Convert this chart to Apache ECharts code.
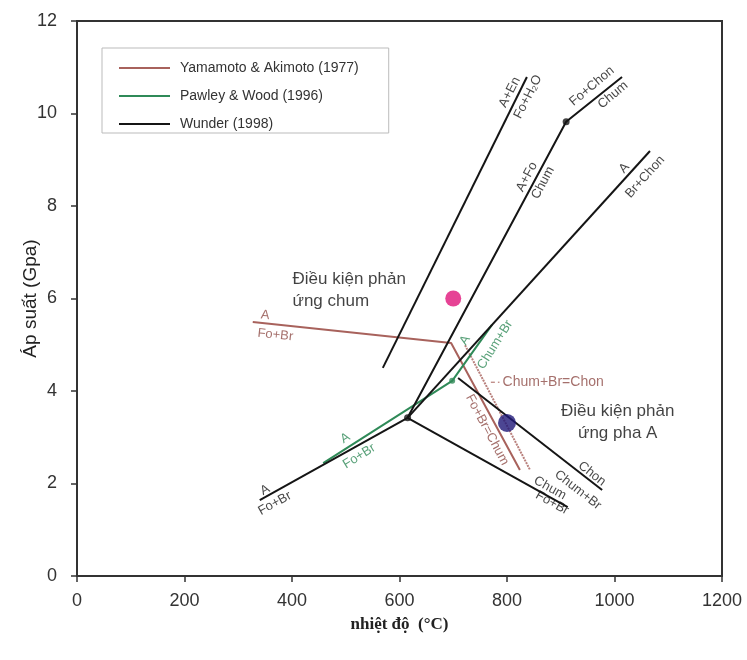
<!DOCTYPE html>
<html><head><meta charset="utf-8">
<script src="https://cdn.jsdelivr.net/npm/echarts@6/dist/echarts.min.js"></script>
<style>html,body{margin:0;padding:0;background:#fff}#c{width:747px;height:660px}</style>
</head><body><div id="c"></div>
<script>
// axes
const xTicks = [0, 200, 400, 600, 800, 1000, 1200];
const yTicks = [0, 2, 4, 6, 8, 10, 12];
const seriesNames = ['Yamamoto & Akimoto (1977)', 'Pawley & Wood (1996)', 'Wunder (1998)'];

// Wunder (1998) reaction curves: [temperature °C, pressure GPa]
const wunderAFoBr = [[340, 1.64], [615, 3.42]];
const wunderChumFoBr = [[615, 3.42], [913, 1.49]];
const wunderAFoChum = [[615, 3.42], [910, 9.82], [1014, 10.79]];
const wunderABrChon = [[615, 3.42], [1066, 9.19]];
const wunderAEn = [[569, 4.5], [837, 10.79]];
const wunderChonChumBr = [[709, 4.28], [977, 1.86]];
const wunderPoints = [[615, 3.42], [910, 9.82]];

// Pawley & Wood (1996)
const pawleyLine = [[458, 2.44], [698, 4.22], [772, 5.43]];
const pawleyPoints = [[698, 4.22]];

// Yamamoto & Akimoto (1977)
const yamamotoLine1 = [[327, 5.49], [696, 5.04], [824, 2.29]];
const yamamotoLine2 = [[722, 4.99], [843, 2.29]];
const yamamotoLeader = [[770, 4.19], [786, 4.19]];

// condition markers
const chumConditionPoint = [[700, 6.0]];
const phaAConditionPoint = [[800, 3.31]];

// curve labels
const wunderLabelText = ['A', 'Fo+Br', 'Chum', 'Fo+Br', 'Chon', 'Chum+Br', 'A+En', 'Fo+H₂O', 'Fo+Chon', 'Chum', 'A+Fo', 'Chum', 'A', 'Br+Chon'];
const wunderLabelPos = [[350, 1.86], [368, 1.57], [880, 1.90], [884, 1.58], [958, 2.21], [932, 1.86], [805, 10.46], [839, 10.36], [958, 10.59], [997, 10.40], [837, 8.63], [867, 8.50], [1018, 8.82], [1057, 8.63]];
const wunderLabelAngle = [29, 29, -29, -29, -38, -38, 63, 63, 40, 40, 62, 62, 48, 48];

const pawleyLabelText = ['A', 'Fo+Br', 'A', 'Chum+Br'];
const pawleyLabelPos = [[499, 2.98], [525, 2.59], [722, 5.10], [778, 5.00]];
const pawleyLabelAngle = [32, 32, 58, 58];

const yamamotoLabelText = ['A', 'Fo+Br', 'Fo+Br=Chum'];
const yamamotoLabelPos = [[350, 5.64], [369, 5.21], [763, 3.16]];
const yamamotoLabelAngle = [-6, -6, -62];
const yamamotoSideLabelText = ['Chum+Br=Chon'];
const yamamotoSideLabelPos = [[789, 4.19]];

const chumNoteText = ['Điều kiện phản\nứng chum'];
const chumNotePos = [[400, 6.18]];
const phaANoteText = ['Điều kiện phản\nứng pha A'];
const phaANotePos = [[1006, 3.32]];

const FONT = '"Liberation Sans", Arial, sans-serif';
const BLACK = '#151515', GREEN = '#2f8a58', RED = '#a8625c';

function lineSeries(name, data, color, extra) {
  return Object.assign({
    name: name, type: 'line', data: data, symbol: 'none', silent: true,
    lineStyle: { color: color, width: 2 }, itemStyle: { color: color }, z: 3
  }, extra || {});
}
function labelSeries(texts, pos, angles, color, extraLabel) {
  return {
    type: 'scatter', silent: true, symbolSize: 1, z: 6,
    itemStyle: { color: 'rgba(0,0,0,0)' },
    data: texts.map((t, i) => ({
      value: pos[i],
      label: Object.assign({ show: true, formatter: t, rotate: angles ? angles[i] : 0 }, extraLabel || {})
    })),
    label: { show: true, position: 'inside', color: color, fontSize: 13, fontFamily: FONT }
  };
}

const series = [
  lineSeries(seriesNames[0], yamamotoLine1, RED),
  lineSeries(seriesNames[0], yamamotoLine2, RED, { lineStyle: { color: RED, width: 2, type: [2, 1], opacity: 0.8 } }),
  lineSeries(seriesNames[0], yamamotoLeader, RED, { lineStyle: { color: RED, width: 1, type: [4, 3] } }),
  lineSeries(seriesNames[1], pawleyLine, GREEN),
  lineSeries(seriesNames[2], wunderAFoBr, BLACK),
  lineSeries(seriesNames[2], wunderChumFoBr, BLACK),
  lineSeries(seriesNames[2], wunderAFoChum, BLACK),
  lineSeries(seriesNames[2], wunderABrChon, BLACK),
  lineSeries(seriesNames[2], wunderAEn, BLACK),
  lineSeries(seriesNames[2], wunderChonChumBr, BLACK),
  { type: 'scatter', silent: true, data: wunderPoints, symbolSize: 7, itemStyle: { color: BLACK }, z: 5 },
  { type: 'scatter', silent: true, data: pawleyPoints, symbolSize: 6, itemStyle: { color: GREEN }, z: 5 },
  { type: 'scatter', silent: true, data: chumConditionPoint, symbolSize: 16, itemStyle: { color: '#e0147a' }, z: 5 },
  { type: 'scatter', silent: true, data: phaAConditionPoint, symbolSize: 18, itemStyle: { color: '#1f1878' }, z: 5 },
  labelSeries(wunderLabelText, wunderLabelPos, wunderLabelAngle, BLACK),
  labelSeries(pawleyLabelText, pawleyLabelPos, pawleyLabelAngle, GREEN),
  labelSeries(yamamotoLabelText, yamamotoLabelPos, yamamotoLabelAngle, '#8f4c47'),
  labelSeries(yamamotoSideLabelText, yamamotoSideLabelPos, null, '#8f4c47', { position: 'right', distance: 1, fontSize: 14 }),
  labelSeries(chumNoteText, chumNotePos, null, '#111', { position: 'right', distance: 0, fontSize: 17, lineHeight: 22, align: 'left' }),
  labelSeries(phaANoteText, phaANotePos, null, '#111', { fontSize: 17, lineHeight: 22, align: 'center' })
];

const chart = echarts.init(document.getElementById('c'), null, { renderer: 'canvas' });
chart.setOption({
  animation: false,
  backgroundColor: '#fff',
  grid: { left: 77, right: 25, top: 21, bottom: 84, show: true, borderColor: '#333', borderWidth: 2, backgroundColor: 'transparent' },
  legend: {
    data: seriesNames, orient: 'vertical', left: 102, top: 48,
    icon: 'rect', padding: [12, 30, 1, 17], itemGap: 12, itemWidth: 51, itemHeight: 2,
    backgroundColor: '#fff', borderColor: '#bbb', borderWidth: 1,
    textStyle: { fontSize: 14, color: '#333', fontFamily: FONT, padding: [0, 0, 0, 5], lineHeight: 16 },
    selectedMode: false
  },
  xAxis: {
    type: 'value', min: xTicks[0], max: xTicks[xTicks.length - 1], interval: xTicks[1] - xTicks[0],
    name: 'nhiệt độ  (°C)', nameLocation: 'middle', nameGap: 40, nameMoveOverlap: false,
    nameTextStyle: { fontFamily: '"Liberation Serif", "Times New Roman", serif', fontWeight: 'bold', fontSize: 17, color: '#222' },
    axisLine: { show: true, onZero: false, lineStyle: { color: '#333', width: 2 } },
    axisTick: { show: true, inside: false, length: 6, lineStyle: { color: '#333', width: 1.5 } },
    axisLabel: { fontSize: 18, color: '#333', fontFamily: FONT, margin: 16, formatter: v => String(v) },
    splitLine: { show: false }
  },
  yAxis: {
    type: 'value', min: yTicks[0], max: yTicks[yTicks.length - 1], interval: yTicks[1] - yTicks[0],
    name: 'Áp suất (Gpa)', nameLocation: 'middle', nameGap: 37, nameMoveOverlap: false,
    nameTextStyle: { fontFamily: FONT, fontSize: 19, color: '#222' },
    axisLine: { show: true, onZero: false, lineStyle: { color: '#333', width: 2 } },
    axisTick: { show: true, inside: false, length: 6, lineStyle: { color: '#333', width: 1.5 } },
    axisLabel: { fontSize: 18, color: '#333', fontFamily: FONT, margin: 20, formatter: v => String(v) },
    splitLine: { show: false }
  },
  series: series
});
</script></body></html>
